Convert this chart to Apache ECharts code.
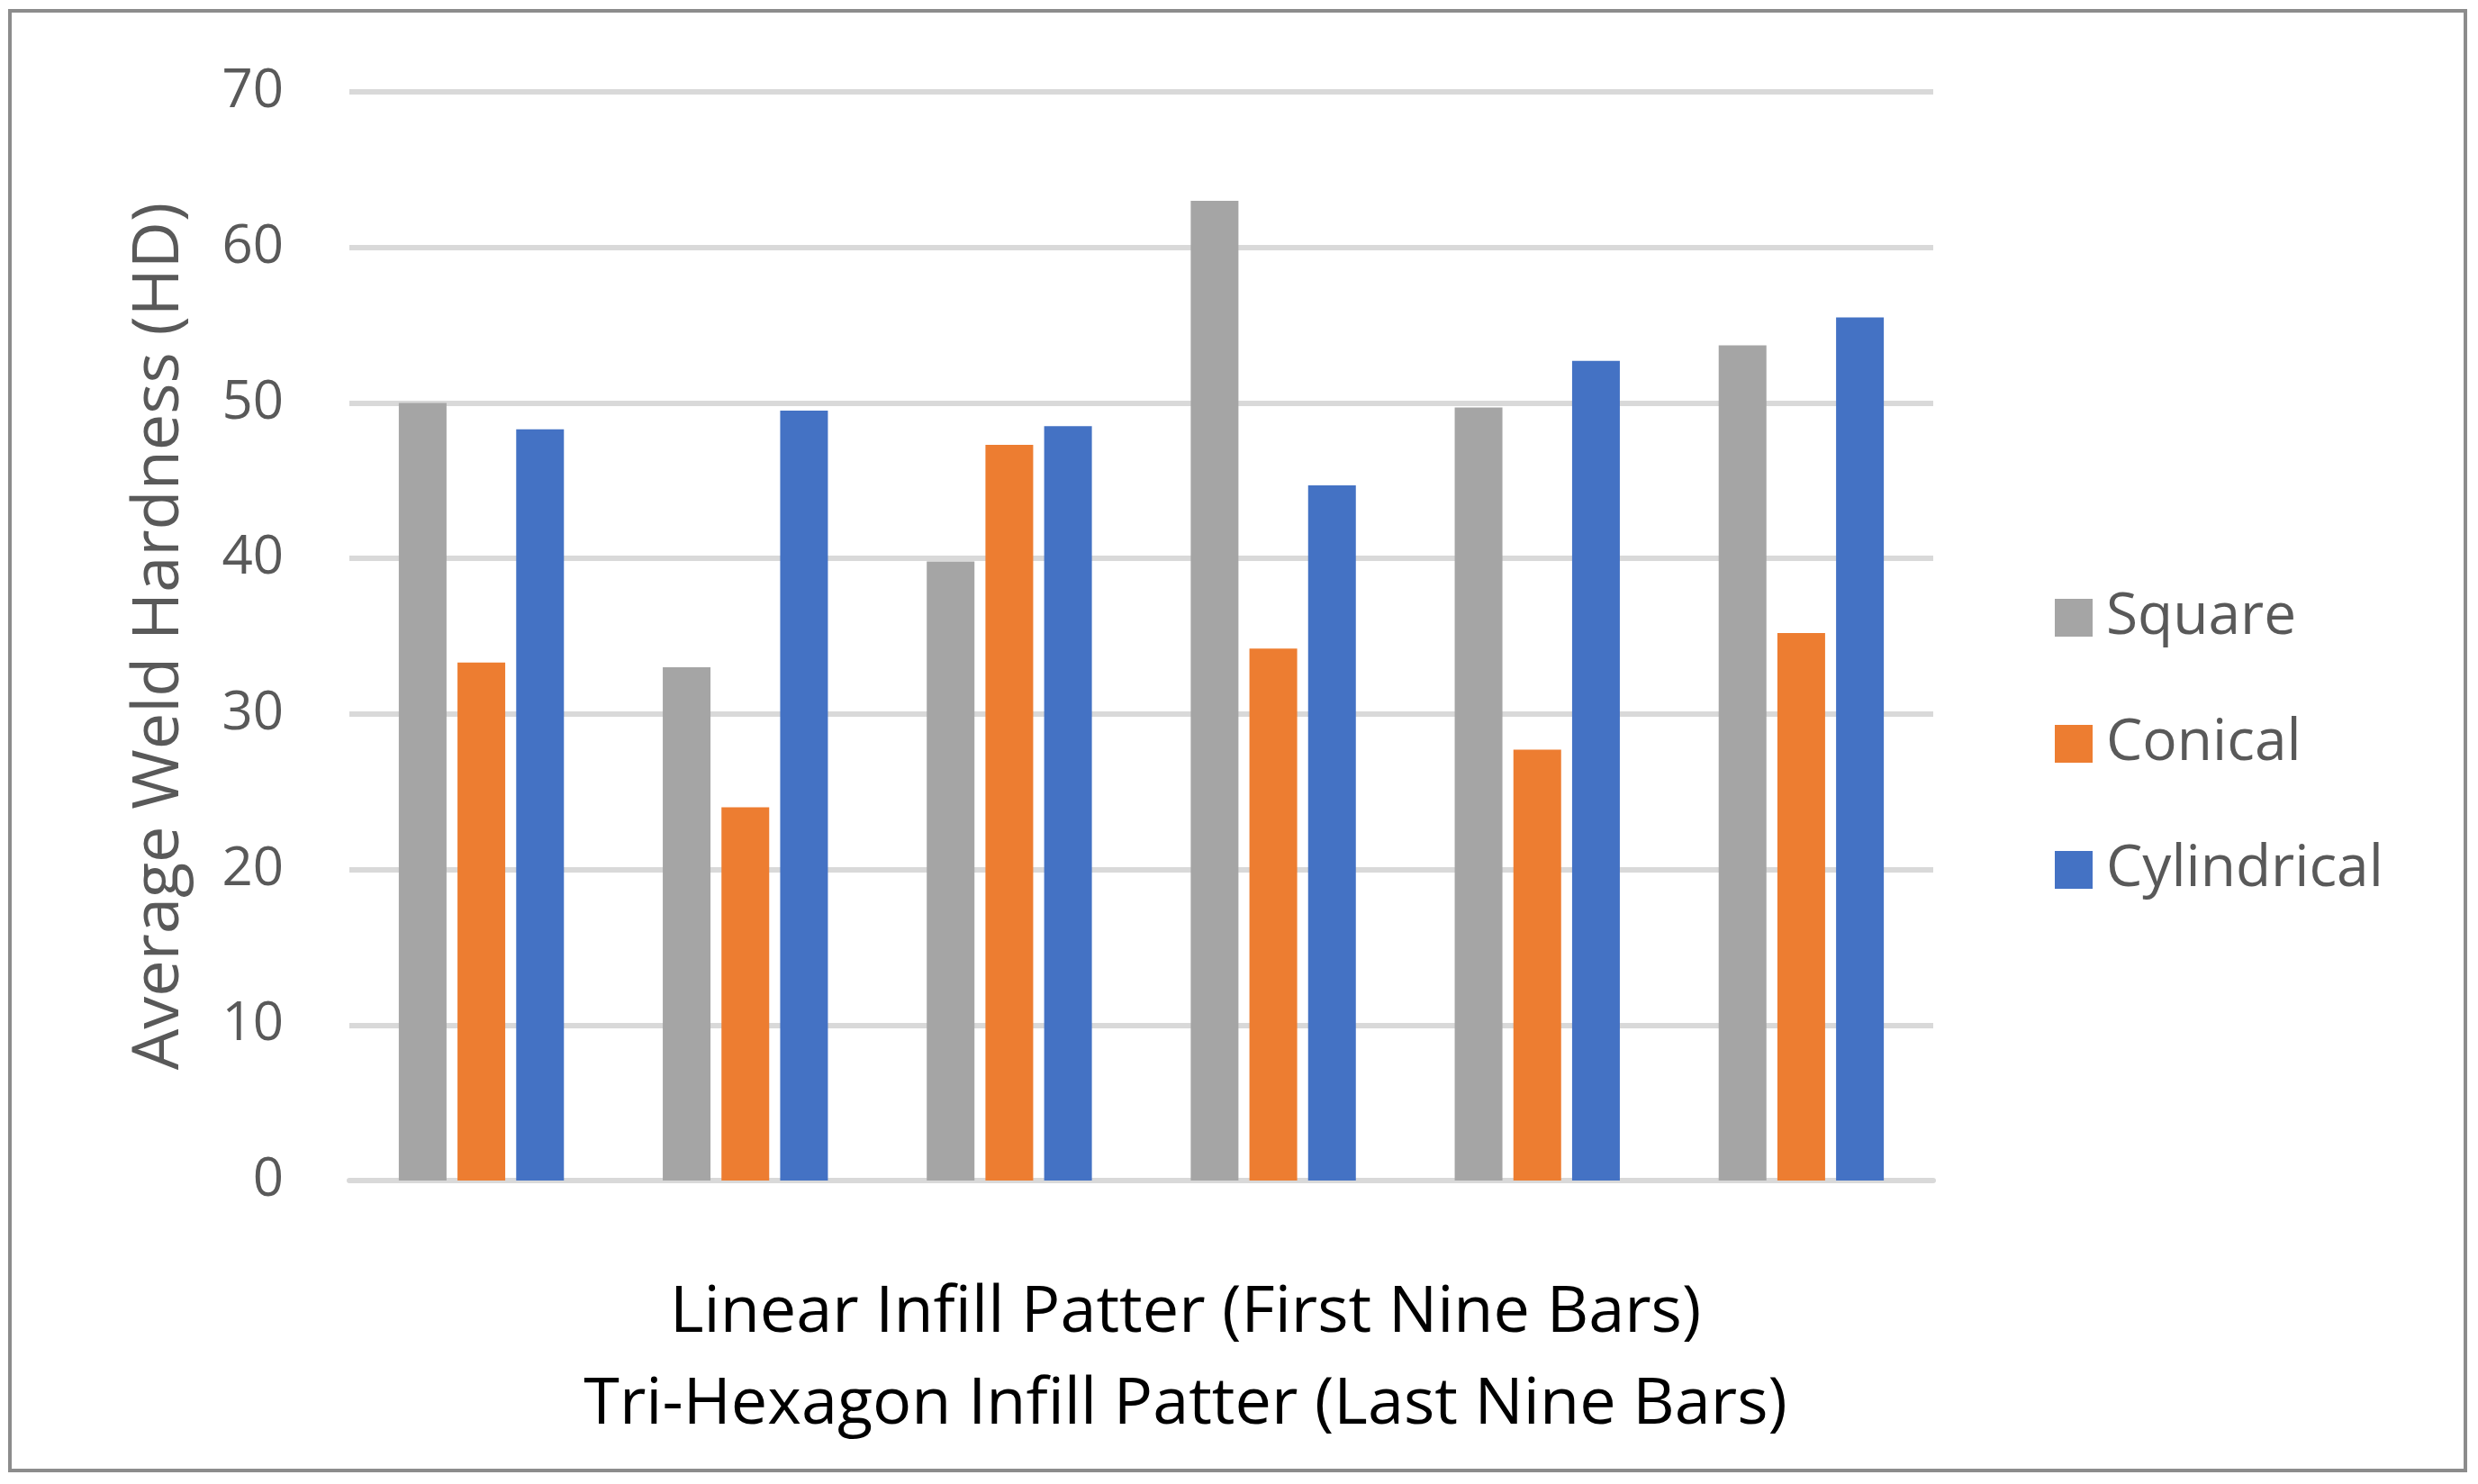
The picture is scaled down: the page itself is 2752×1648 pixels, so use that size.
<!DOCTYPE html>
<html>
<head>
<meta charset="utf-8">
<script src="https://cdn.jsdelivr.net/npm/echarts@6/dist/echarts.min.js"></script>
<style>html,body{margin:0;padding:0;background:#fff}#c{width:2752px;height:1648px}</style>
</head>
<body>
<div id="c"></div>
<script>
const categories = ['1', '2', '3', '4', '5', '6'];
const seriesNames = ['Square', 'Conical', 'Cylindrical'];
const square = [50.0, 33.0, 39.8, 63.0, 49.7, 53.7];
const conical = [33.3, 24.0, 47.3, 34.2, 27.7, 35.2];
const cylindrical = [48.3, 49.5, 48.5, 44.7, 52.7, 55.5];
const yTicks = [0, 10, 20, 30, 40, 50, 60, 70];
const colors = ['#a5a5a5', '#ed7d31', '#4472c4'];
const yTitle = 'Average Weld Hardness (HD)';
const xTitle = 'Linear Infill Patter (First Nine Bars)\nTri-Hexagon Infill Patter (Last Nine Bars)';

const chart = echarts.init(document.getElementById('c'));
const font = '"Open Sans", "Noto Sans", sans-serif';
const values = [square, conical, cylindrical];
chart.setOption({
  animation: false,
  backgroundColor: '#fff',
  color: colors,
  graphic: [{
    type: 'rect', shape: { x: 11, y: 12, width: 2727, height: 1621 },
    style: { fill: 'none', stroke: '#8c8c8c', lineWidth: 4 }, silent: true, z: -1
  }],
  grid: { left: 388, right: 605, top: 102, bottom: 337, containLabel: false },
  legend: {
    orient: 'vertical', left: 2277, top: 649,
    itemWidth: 42, itemHeight: 42, itemGap: 76,
    icon: 'rect',
    textStyle: { fontFamily: font, fontSize: 64, color: '#595959', lineHeight: 64, padding: [0, 0, 0, 10] },
    data: seriesNames
  },
  xAxis: {
    type: 'category', data: categories,
    axisLine: { show: true, lineStyle: { color: '#d9d9d9', width: 6 } },
    axisTick: { show: false }, axisLabel: { show: false },
    name: xTitle, nameLocation: 'middle', nameGap: 96,
    nameTextStyle: { fontFamily: font, fontSize: 72, color: '#000', lineHeight: 102, padding: [0, 0, 0, 98] }
  },
  yAxis: {
    type: 'value', min: yTicks[0], max: yTicks[yTicks.length - 1], interval: 10,
    axisLine: { show: false }, axisTick: { show: false },
    splitLine: { lineStyle: { color: '#d9d9d9', width: 6 } },
    axisLabel: { fontFamily: font, fontSize: 60, color: '#595959', margin: 73, padding: [8, 0, 0, 0] },
    name: yTitle, nameLocation: 'middle', nameGap: 175, nameRotate: 90,
    nameTextStyle: { fontFamily: font, fontSize: 72, color: '#595959' }
  },
  series: seriesNames.map((n, i) => ({
    name: n, type: 'bar', data: values[i],
    barWidth: 53, barGap: '23%',
    itemStyle: { color: colors[i] }
  }))
});
</script>
</body>
</html>
